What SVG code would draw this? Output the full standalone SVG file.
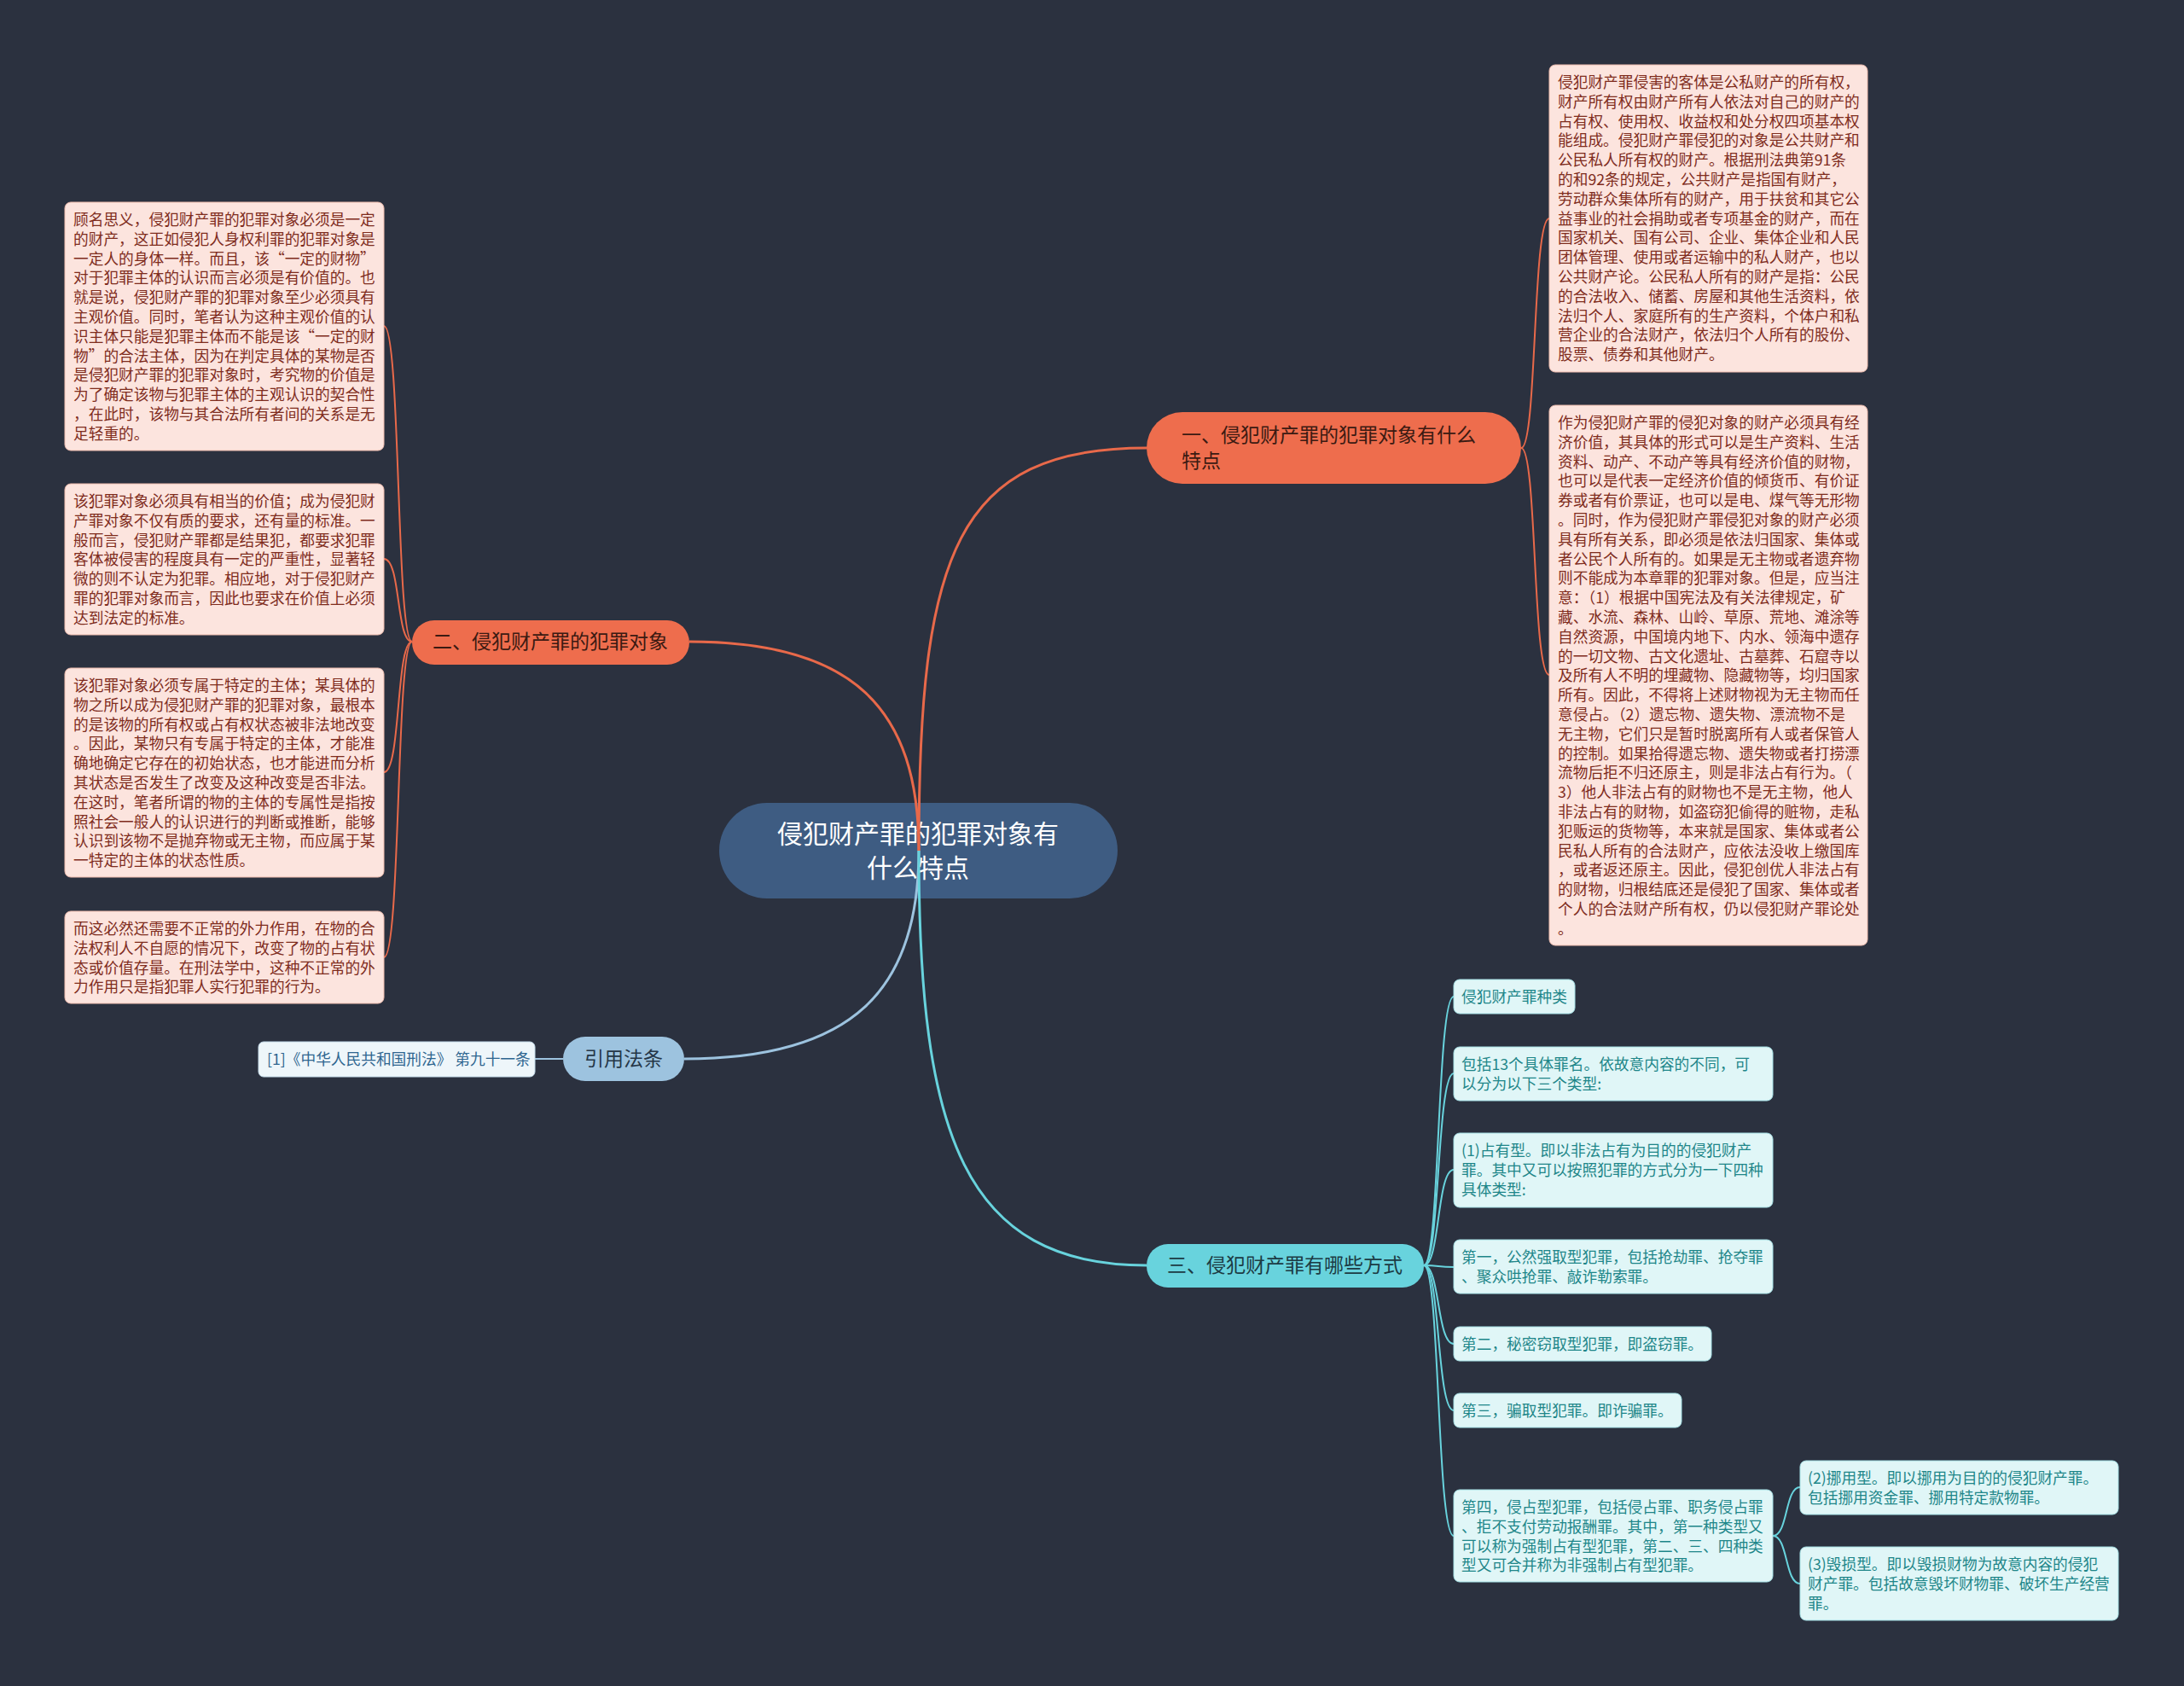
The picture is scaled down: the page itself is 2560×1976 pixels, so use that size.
<svg xmlns="http://www.w3.org/2000/svg" width="2560" height="1976" viewBox="0 0 2560 1976">
<style>
text{font-family:"Noto Sans CJK SC","Noto Sans",sans-serif}
.lo{fill:#fce4de;stroke:#eebcae;stroke-width:1}
.lot{fill:#7f2c1d;font-size:17.7px}
.lc{fill:#e0f6f7;stroke:#a6e1e6;stroke-width:1}
.lct{fill:#1e8689;font-size:17.7px}
.co{fill:none;stroke:#e8694a;stroke-width:2}
.cc{fill:none;stroke:#68d3dd;stroke-width:2}
.main{fill:none;stroke-width:3}
</style>
<rect width="2560" height="1976" fill="#2b313f"/>

<g id="center">
<rect x="843" y="941" width="467" height="112" rx="56" fill="#3e5c82"/>
<text x="1076" y="988" text-anchor="middle" font-size="30" fill="#ffffff">侵犯财产罪的犯罪对象有</text>
<text x="1076" y="1028" text-anchor="middle" font-size="30" fill="#ffffff">什么特点</text>
</g>

<g id="connectors">
<path class="main" stroke="#e8694a" d="M1077,997 C1077,650 1120,525 1344,525"/>
<path class="main" stroke="#e8694a" d="M1077,997 C1077,830 1000,752 808,752"/>
<path class="main" stroke="#9dc3df" d="M1077,997 C1077,1160 1000,1241 802,1241"/>
<path class="main" stroke="#68d3dd" d="M1077,997 C1077,1330 1130,1483 1344,1483"/>
<path class="co" d="M1783,525 C1802,525 1796,256 1816,256"/>
<path class="co" d="M1783,525 C1802,525 1796,791 1816,791"/>
<path class="co" d="M483,752 C464,752 470,382 450,382"/>
<path class="co" d="M483,752 C464,752 470,655 450,655"/>
<path class="co" d="M483,752 C464,752 470,905 450,905"/>
<path class="co" d="M483,752 C464,752 470,1122 450,1122"/>
<path fill="none" stroke="#9dc3df" stroke-width="2" d="M660,1241 L627,1241"/>
<path class="cc" d="M1669,1483 C1688,1483 1684,1168 1704,1168"/>
<path class="cc" d="M1669,1483 C1688,1483 1684,1258 1704,1258"/>
<path class="cc" d="M1669,1483 C1688,1483 1684,1371 1704,1371"/>
<path class="cc" d="M1669,1483 C1688,1483 1684,1485 1704,1485"/>
<path class="cc" d="M1669,1483 C1688,1483 1684,1575 1704,1575"/>
<path class="cc" d="M1669,1483 C1688,1483 1684,1653 1704,1653"/>
<path class="cc" d="M1669,1483 C1688,1483 1684,1800 1704,1800"/>
<path class="cc" d="M2078,1800 C2096,1800 2092,1743 2110,1743"/>
<path class="cc" d="M2078,1800 C2096,1800 2092,1856 2110,1856"/>
</g>

<g id="b1">
<rect x="1344" y="483" width="439" height="84" rx="42" fill="#ee6d4d"/>
<text x="1385" y="518" font-size="23" fill="#3b1a12">一、侵犯财产罪的犯罪对象有什么</text>
<text x="1385" y="548" font-size="23" fill="#3b1a12">特点</text>
</g>
<g id="b2">
<rect x="483" y="727" width="325" height="52" rx="26" fill="#ee6d4d"/>
<text x="645" y="760" text-anchor="middle" font-size="23" fill="#3b1a12">二、侵犯财产罪的犯罪对象</text>
</g>
<g id="b3">
<rect x="1344" y="1458" width="325" height="51" rx="25" fill="#68d3dd"/>
<text x="1506" y="1491" text-anchor="middle" font-size="23" fill="#1c3b44">三、侵犯财产罪有哪些方式</text>
</g>
<g id="b4">
<rect x="660" y="1215" width="142" height="52" rx="26" fill="#9dc3df"/>
<text x="731" y="1249" text-anchor="middle" font-size="23" fill="#253647">引用法条</text>
</g>
<g id="ref">
<rect x="303" y="1221" width="324" height="41" rx="6" fill="#eef6fa" stroke="#c4dcea"/>
<text x="313" y="1248" font-size="17.7" fill="#2f6690">[1]《中华人民共和国刑法》 第九十一条</text>
</g>

<g id="r1">
<rect class="lo" x="1816" y="76" width="373" height="360" rx="7"/>
<text class="lot" x="1826" y="103"><tspan x="1826">侵犯财产罪侵害的客体是公私财产的所有权，</tspan><tspan x="1826" dy="22.8">财产所有权由财产所有人依法对自己的财产的</tspan><tspan x="1826" dy="22.8">占有权、使用权、收益权和处分权四项基本权</tspan><tspan x="1826" dy="22.8">能组成。侵犯财产罪侵犯的对象是公共财产和</tspan><tspan x="1826" dy="22.8">公民私人所有权的财产。根据刑法典第91条</tspan><tspan x="1826" dy="22.8">的和92条的规定，公共财产是指国有财产，</tspan><tspan x="1826" dy="22.8">劳动群众集体所有的财产，用于扶贫和其它公</tspan><tspan x="1826" dy="22.8">益事业的社会捐助或者专项基金的财产，而在</tspan><tspan x="1826" dy="22.8">国家机关、国有公司、企业、集体企业和人民</tspan><tspan x="1826" dy="22.8">团体管理、使用或者运输中的私人财产，也以</tspan><tspan x="1826" dy="22.8">公共财产论。公民私人所有的财产是指：公民</tspan><tspan x="1826" dy="22.8">的合法收入、储蓄、房屋和其他生活资料，依</tspan><tspan x="1826" dy="22.8">法归个人、家庭所有的生产资料，个体户和私</tspan><tspan x="1826" dy="22.8">营企业的合法财产，依法归个人所有的股份、</tspan><tspan x="1826" dy="22.8">股票、债券和其他财产。</tspan></text>
</g>

<g id="r2">
<rect class="lo" x="1816" y="475" width="373" height="633" rx="7"/>
<text class="lot" x="1826" y="502"><tspan x="1826">作为侵犯财产罪的侵犯对象的财产必须具有经</tspan><tspan x="1826" dy="22.8">济价值，其具体的形式可以是生产资料、生活</tspan><tspan x="1826" dy="22.8">资料、动产、不动产等具有经济价值的财物，</tspan><tspan x="1826" dy="22.8">也可以是代表一定经济价值的倾货币、有价证</tspan><tspan x="1826" dy="22.8">券或者有价票证，也可以是电、煤气等无形物</tspan><tspan x="1826" dy="22.8">。同时，作为侵犯财产罪侵犯对象的财产必须</tspan><tspan x="1826" dy="22.8">具有所有关系，即必须是依法归国家、集体或</tspan><tspan x="1826" dy="22.8">者公民个人所有的。如果是无主物或者遗弃物</tspan><tspan x="1826" dy="22.8">则不能成为本章罪的犯罪对象。但是，应当注</tspan><tspan x="1826" dy="22.8">意：（1）根据中国宪法及有关法律规定，矿</tspan><tspan x="1826" dy="22.8">藏、水流、森林、山岭、草原、荒地、滩涂等</tspan><tspan x="1826" dy="22.8">自然资源，中国境内地下、内水、领海中遗存</tspan><tspan x="1826" dy="22.8">的一切文物、古文化遗址、古墓葬、石窟寺以</tspan><tspan x="1826" dy="22.8">及所有人不明的埋藏物、隐藏物等，均归国家</tspan><tspan x="1826" dy="22.8">所有。因此，不得将上述财物视为无主物而任</tspan><tspan x="1826" dy="22.8">意侵占。（2）遗忘物、遗失物、漂流物不是</tspan><tspan x="1826" dy="22.8">无主物，它们只是暂时脱离所有人或者保管人</tspan><tspan x="1826" dy="22.8">的控制。如果拾得遗忘物、遗失物或者打捞漂</tspan><tspan x="1826" dy="22.8">流物后拒不归还原主，则是非法占有行为。（</tspan><tspan x="1826" dy="22.8">3）他人非法占有的财物也不是无主物，他人</tspan><tspan x="1826" dy="22.8">非法占有的财物，如盗窃犯偷得的赃物，走私</tspan><tspan x="1826" dy="22.8">犯贩运的货物等，本来就是国家、集体或者公</tspan><tspan x="1826" dy="22.8">民私人所有的合法财产，应依法没收上缴国库</tspan><tspan x="1826" dy="22.8">，或者返还原主。因此，侵犯创优人非法占有</tspan><tspan x="1826" dy="22.8">的财物，归根结底还是侵犯了国家、集体或者</tspan><tspan x="1826" dy="22.8">个人的合法财产所有权，仍以侵犯财产罪论处</tspan><tspan x="1826" dy="22.8">。</tspan></text>
</g>

<g id="l1">
<rect class="lo" x="76" y="237" width="374" height="291" rx="7"/>
<text class="lot" x="86" y="264"><tspan x="86">顾名思义，侵犯财产罪的犯罪对象必须是一定</tspan><tspan x="86" dy="22.8">的财产，这正如侵犯人身权利罪的犯罪对象是</tspan><tspan x="86" dy="22.8">一定人的身体一样。而且，该“一定的财物”</tspan><tspan x="86" dy="22.8">对于犯罪主体的认识而言必须是有价值的。也</tspan><tspan x="86" dy="22.8">就是说，侵犯财产罪的犯罪对象至少必须具有</tspan><tspan x="86" dy="22.8">主观价值。同时，笔者认为这种主观价值的认</tspan><tspan x="86" dy="22.8">识主体只能是犯罪主体而不能是该“一定的财</tspan><tspan x="86" dy="22.8">物”的合法主体，因为在判定具体的某物是否</tspan><tspan x="86" dy="22.8">是侵犯财产罪的犯罪对象时，考究物的价值是</tspan><tspan x="86" dy="22.8">为了确定该物与犯罪主体的主观认识的契合性</tspan><tspan x="86" dy="22.8">，在此时，该物与其合法所有者间的关系是无</tspan><tspan x="86" dy="22.8">足轻重的。</tspan></text>
</g>

<g id="l2">
<rect class="lo" x="76" y="567" width="374" height="177" rx="7"/>
<text class="lot" x="86" y="594"><tspan x="86">该犯罪对象必须具有相当的价值；成为侵犯财</tspan><tspan x="86" dy="22.8">产罪对象不仅有质的要求，还有量的标准。一</tspan><tspan x="86" dy="22.8">般而言，侵犯财产罪都是结果犯，都要求犯罪</tspan><tspan x="86" dy="22.8">客体被侵害的程度具有一定的严重性，显著轻</tspan><tspan x="86" dy="22.8">微的则不认定为犯罪。相应地，对于侵犯财产</tspan><tspan x="86" dy="22.8">罪的犯罪对象而言，因此也要求在价值上必须</tspan><tspan x="86" dy="22.8">达到法定的标准。</tspan></text>
</g>

<g id="l3">
<rect class="lo" x="76" y="783" width="374" height="245" rx="7"/>
<text class="lot" x="86" y="810"><tspan x="86">该犯罪对象必须专属于特定的主体；某具体的</tspan><tspan x="86" dy="22.8">物之所以成为侵犯财产罪的犯罪对象，最根本</tspan><tspan x="86" dy="22.8">的是该物的所有权或占有权状态被非法地改变</tspan><tspan x="86" dy="22.8">。因此，某物只有专属于特定的主体，才能准</tspan><tspan x="86" dy="22.8">确地确定它存在的初始状态，也才能进而分析</tspan><tspan x="86" dy="22.8">其状态是否发生了改变及这种改变是否非法。</tspan><tspan x="86" dy="22.8">在这时，笔者所谓的物的主体的专属性是指按</tspan><tspan x="86" dy="22.8">照社会一般人的认识进行的判断或推断，能够</tspan><tspan x="86" dy="22.8">认识到该物不是抛弃物或无主物，而应属于某</tspan><tspan x="86" dy="22.8">一特定的主体的状态性质。</tspan></text>
</g>

<g id="l4">
<rect class="lo" x="76" y="1068" width="374" height="108" rx="7"/>
<text class="lot" x="86" y="1095"><tspan x="86">而这必然还需要不正常的外力作用，在物的合</tspan><tspan x="86" dy="22.8">法权利人不自愿的情况下，改变了物的占有状</tspan><tspan x="86" dy="22.8">态或价值存量。在刑法学中，这种不正常的外</tspan><tspan x="86" dy="22.8">力作用只是指犯罪人实行犯罪的行为。</tspan></text>
</g>

<g id="c1">
<rect class="lc" x="1704" y="1148" width="142" height="40" rx="7"/>
<text class="lct" x="1713" y="1175">侵犯财产罪种类</text>
</g>
<g id="c2">
<rect class="lc" x="1704" y="1227" width="374" height="63" rx="7"/>
<text class="lct" x="1713" y="1254"><tspan x="1713">包括13个具体罪名。依故意内容的不同，可</tspan><tspan x="1713" dy="22.8">以分为以下三个类型:</tspan></text>
</g>
<g id="c3">
<rect class="lc" x="1704" y="1328" width="374" height="87" rx="7"/>
<text class="lct" x="1713" y="1355"><tspan x="1713">(1)占有型。即以非法占有为目的的侵犯财产</tspan><tspan x="1713" dy="22.8">罪。其中又可以按照犯罪的方式分为一下四种</tspan><tspan x="1713" dy="22.8">具体类型:</tspan></text>
</g>
<g id="c4">
<rect class="lc" x="1704" y="1453" width="374" height="63" rx="7"/>
<text class="lct" x="1713" y="1480"><tspan x="1713">第一，公然强取型犯罪，包括抢劫罪、抢夺罪</tspan><tspan x="1713" dy="22.8">、聚众哄抢罪、敲诈勒索罪。</tspan></text>
</g>
<g id="c5">
<rect class="lc" x="1704" y="1555" width="302" height="40" rx="7"/>
<text class="lct" x="1713" y="1582">第二，秘密窃取型犯罪，即盗窃罪。</text>
</g>
<g id="c6">
<rect class="lc" x="1704" y="1633" width="267" height="40" rx="7"/>
<text class="lct" x="1713" y="1660">第三，骗取型犯罪。即诈骗罪。</text>
</g>
<g id="c7">
<rect class="lc" x="1704" y="1746" width="374" height="108" rx="7"/>
<text class="lct" x="1713" y="1773"><tspan x="1713">第四，侵占型犯罪，包括侵占罪、职务侵占罪</tspan><tspan x="1713" dy="22.8">、拒不支付劳动报酬罪。其中，第一种类型又</tspan><tspan x="1713" dy="22.8">可以称为强制占有型犯罪，第二、三、四种类</tspan><tspan x="1713" dy="22.8">型又可合并称为非强制占有型犯罪。</tspan></text>
</g>
<g id="c8">
<rect class="lc" x="2110" y="1712" width="373" height="63" rx="7"/>
<text class="lct" x="2119" y="1739"><tspan x="2119">(2)挪用型。即以挪用为目的的侵犯财产罪。</tspan><tspan x="2119" dy="22.8">包括挪用资金罪、挪用特定款物罪。</tspan></text>
</g>
<g id="c9">
<rect class="lc" x="2110" y="1813" width="373" height="86" rx="7"/>
<text class="lct" x="2119" y="1840"><tspan x="2119">(3)毁损型。即以毁损财物为故意内容的侵犯</tspan><tspan x="2119" dy="22.8">财产罪。包括故意毁坏财物罪、破坏生产经营</tspan><tspan x="2119" dy="22.8">罪。</tspan></text>
</g>
</svg>
